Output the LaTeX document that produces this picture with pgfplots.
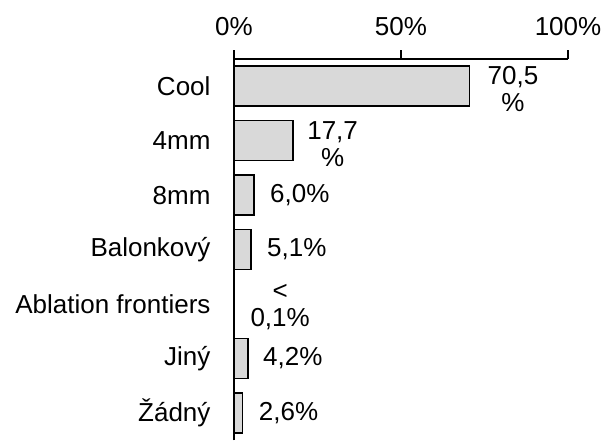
\documentclass[border=0pt]{standalone}
\usepackage{fontspec}
\setmainfont{Liberation Sans}
\usepackage{pgfplots}
\pgfplotsset{compat=1.18}
\definecolor{barfill}{HTML}{D9D9D9}
\begin{document}
\begin{tikzpicture}
\begin{axis}[
  at={(0,0)}, anchor=south west,
  scale only axis, width=334pt, height=381pt,
  xbar, bar width=40pt,
  xmin=0, xmax=100, ymin=-0.5, ymax=6.5,
  axis x line*=top, axis y line*=left,
  axis line style={line width=1.5pt, black},
  xtick={0,50,100}, xticklabels={0\%,50\%,100\%},
  xtick align=outside, major tick length=9pt,
  x tick style={line width=1.5pt, black},
  xticklabel style={yshift=11pt},
  ytick={0,...,6},
  yticklabels={Žádný, Jiný, Ablation frontiers, Balonkový, 8mm, 4mm, Cool},
  y tick style={draw=none},
  yticklabel style={xshift=-11pt},
  tick label style={font=\fontsize{26}{29}\selectfont},
  /pgf/number format/assume math mode=true,
  clip=false,
]
\addplot[fill=barfill, draw=black, line width=1.5pt] coordinates {
  (70.5,6) (17.7,5) (6.0,4) (5.1,3) (0.1,2) (4.2,1) (2.6,0)};
\begin{scope}[every node/.style={anchor=west, align=center, inner sep=0pt, font=\fontsize{26}{27}\selectfont}]
\node[xshift=18pt,yshift=-3pt] at (axis cs:70.5,6) {70,5\\\%};
\node[xshift=14pt,yshift=-3pt] at (axis cs:17.7,5) {17,7\\\%};
\node[xshift=16pt] at (axis cs:6.0,4) {6,0\%};
\node[xshift=16pt] at (axis cs:5.1,3) {5,1\%};
\node[xshift=16pt,yshift=-3pt] at (axis cs:0.1,2) {<\\0,1\%};
\node[xshift=15pt] at (axis cs:4.2,1) {4,2\%};
\node[xshift=16pt] at (axis cs:2.6,0) {2,6\%};
\end{scope}
\draw[line width=1.5pt] (rel axis cs:0,0) -- (rel axis cs:0,1);
\end{axis}
\pgfresetboundingbox
\path[use as bounding box] (-234pt,0pt) rectangle (373pt,440pt);
\end{tikzpicture}
\end{document}
